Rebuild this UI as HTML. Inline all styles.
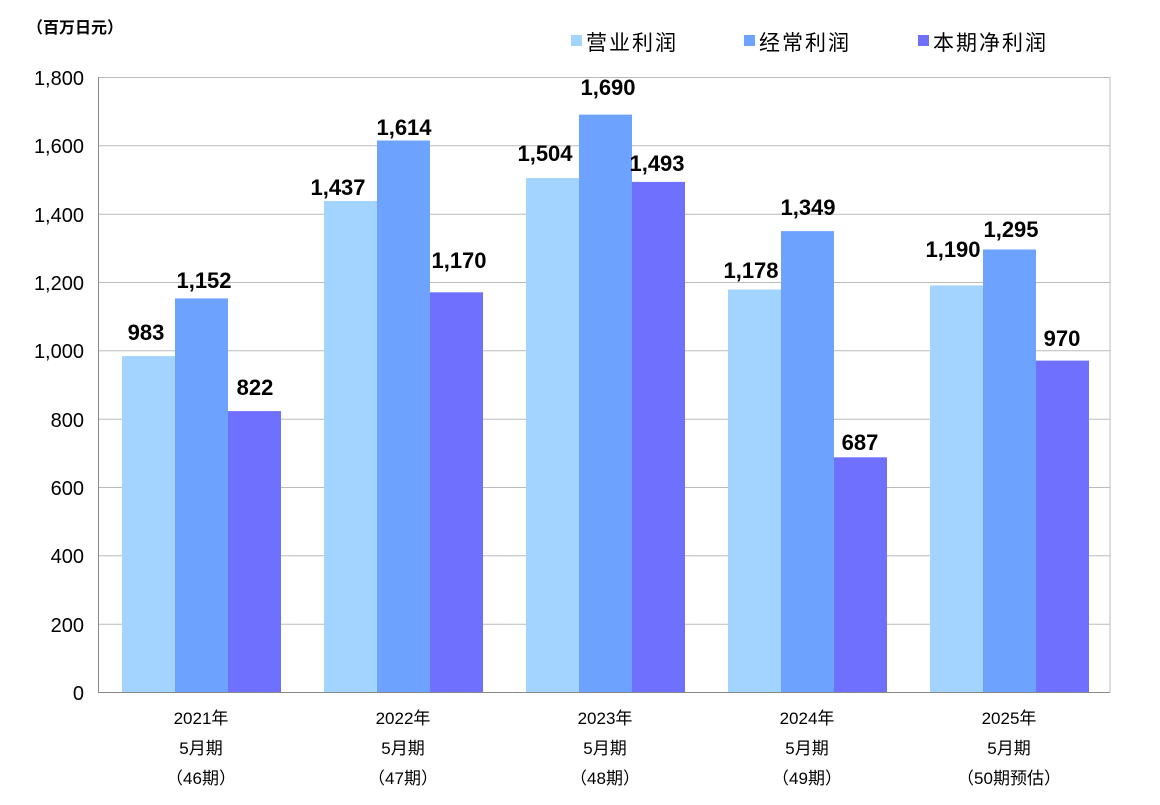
<!DOCTYPE html>
<html><head><meta charset="utf-8"><style>
body{margin:0;background:#fff;}
svg{display:block;font-family:"Liberation Sans","Noto Sans CJK SC",sans-serif;}
</style></head><body>
<svg width="1160" height="805" viewBox="0 0 1160 805">
<text x="27" y="33" font-size="16" font-weight="bold">（百万日元）</text>
<rect x="571" y="35" width="11" height="11" fill="#a3d3ff"/>
<text x="586" y="50" font-size="21" letter-spacing="2">营业利润</text>
<rect x="744" y="35" width="11" height="11" fill="#6ea2ff"/>
<text x="759" y="50" font-size="21" letter-spacing="2">经常利润</text>
<rect x="918" y="35" width="11" height="11" fill="#7070ff"/>
<text x="933" y="50" font-size="21" letter-spacing="2">本期净利润</text>
<g stroke="#bbb" stroke-width="1">
<line x1="98" y1="77.5" x2="1110" y2="77.5"/>
<line x1="98" y1="145.8" x2="1110" y2="145.8"/>
<line x1="98" y1="214.2" x2="1110" y2="214.2"/>
<line x1="98" y1="282.5" x2="1110" y2="282.5"/>
<line x1="98" y1="350.8" x2="1110" y2="350.8"/>
<line x1="98" y1="419.2" x2="1110" y2="419.2"/>
<line x1="98" y1="487.5" x2="1110" y2="487.5"/>
<line x1="98" y1="555.8" x2="1110" y2="555.8"/>
<line x1="98" y1="624.2" x2="1110" y2="624.2"/>
<line x1="1110" y1="77" x2="1110" y2="692"/>
</g>
<line x1="98.5" y1="77" x2="98.5" y2="692" stroke="#888"/>
<line x1="98" y1="692.5" x2="1110" y2="692.5" stroke="#888"/>
<g font-size="20" text-anchor="end">
<text x="84" y="85">1,800</text><text x="84" y="153">1,600</text><text x="84" y="222">1,400</text>
<text x="84" y="290">1,200</text><text x="84" y="358">1,000</text><text x="84" y="427">800</text>
<text x="84" y="495">600</text><text x="84" y="563">400</text><text x="84" y="632">200</text><text x="84" y="700">0</text>
</g>
<g>
<rect x="122" y="356.1" width="53" height="335.9" fill="#a3d3ff"/>
<rect x="175" y="298.4" width="53" height="393.6" fill="#6ea2ff"/>
<rect x="228" y="411.1" width="53" height="280.9" fill="#7070ff"/>
<rect x="324" y="201.0" width="53" height="491.0" fill="#a3d3ff"/>
<rect x="377" y="140.5" width="53" height="551.5" fill="#6ea2ff"/>
<rect x="430" y="292.3" width="53" height="399.7" fill="#7070ff"/>
<rect x="526" y="178.1" width="53" height="513.9" fill="#a3d3ff"/>
<rect x="579" y="114.6" width="53" height="577.4" fill="#6ea2ff"/>
<rect x="632" y="181.9" width="53" height="510.1" fill="#7070ff"/>
<rect x="728" y="289.5" width="53" height="402.5" fill="#a3d3ff"/>
<rect x="781" y="231.1" width="53" height="460.9" fill="#6ea2ff"/>
<rect x="834" y="457.3" width="53" height="234.7" fill="#7070ff"/>
<rect x="930" y="285.4" width="53" height="406.6" fill="#a3d3ff"/>
<rect x="983" y="249.5" width="53" height="442.5" fill="#6ea2ff"/>
<rect x="1036" y="360.6" width="53" height="331.4" fill="#7070ff"/>
</g>
<g font-size="22" font-weight="bold" text-anchor="middle">
<text x="146" y="340">983</text><text x="204" y="288">1,152</text><text x="255" y="395">822</text>
<text x="338" y="195">1,437</text><text x="404" y="135">1,614</text><text x="459" y="268">1,170</text>
<text x="545" y="161">1,504</text><text x="608" y="95">1,690</text><text x="657" y="171">1,493</text>
<text x="751" y="278">1,178</text><text x="808" y="215">1,349</text><text x="860" y="450">687</text>
<text x="953" y="257">1,190</text><text x="1011" y="237">1,295</text><text x="1062" y="346">970</text>
</g>
<g font-size="17" text-anchor="middle">
<text x="201" y="724">2021年</text><text x="201" y="754">5月期</text><text x="201" y="784">（46期）</text>
<text x="403" y="724">2022年</text><text x="403" y="754">5月期</text><text x="403" y="784">（47期）</text>
<text x="605" y="724">2023年</text><text x="605" y="754">5月期</text><text x="605" y="784">（48期）</text>
<text x="807" y="724">2024年</text><text x="807" y="754">5月期</text><text x="807" y="784">（49期）</text>
<text x="1009" y="724">2025年</text><text x="1009" y="754">5月期</text><text x="1009" y="784">（50期预估）</text>
</g>
</svg>
</body></html>
